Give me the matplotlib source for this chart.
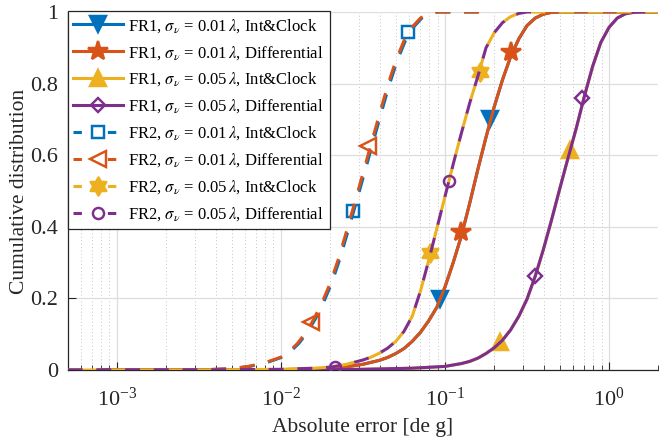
import math
import matplotlib
matplotlib.use("Agg")
import matplotlib.pyplot as plt
from matplotlib.lines import Line2D
from matplotlib.path import Path
from matplotlib.ticker import LogLocator, FixedLocator, FuncFormatter, NullFormatter

plt.rcParams['font.family'] = ['Liberation Serif', 'DejaVu Serif']
plt.rcParams['mathtext.fontset'] = 'stix'

# ---------------- data ----------------
# FR2, sigma = 0.01 lambda, Differential (orange dashed)
fr2_01_diff_x = [0.0005, 0.00316, 0.00501, 0.00631, 0.00794, 0.0100, 0.01122, 0.01259, 0.01413,
                 0.01585, 0.01778, 0.01995, 0.02239, 0.02512, 0.02818, 0.03162, 0.03548, 0.03981,
                 0.04467, 0.05012, 0.05623, 0.0631, 0.07079, 0.07943, 0.08913, 0.17]
fr2_01_diff_y = [0.0, 0.0, 0.004, 0.010, 0.020, 0.036, 0.052, 0.074, 0.104,
                 0.142, 0.188, 0.242, 0.310, 0.388, 0.468, 0.550, 0.632, 0.714,
                 0.794, 0.864, 0.920, 0.958, 0.983, 0.995, 1.0, 1.0]
# FR2, sigma = 0.01 lambda, Int&Clock (blue dashed)
fr2_01_int_x = [0.0005, 0.00322, 0.00511, 0.00644, 0.0081, 0.0102, 0.01144, 0.01284, 0.01441,
                0.01617, 0.01814, 0.02035, 0.02284, 0.02562, 0.02874, 0.03225, 0.03619, 0.04061,
                0.04556, 0.05112, 0.05735, 0.06436, 0.07221, 0.08102, 0.09091, 0.16]
fr2_01_int_y = [0.0, 0.0, 0.004, 0.010, 0.020, 0.036, 0.052, 0.074, 0.104,
                0.142, 0.188, 0.242, 0.310, 0.388, 0.468, 0.550, 0.632, 0.714,
                0.794, 0.864, 0.920, 0.958, 0.983, 0.995, 1.0, 1.0]
# FR2, sigma = 0.05 lambda (yellow dashed Int&Clock, purple dashed Differential)
fr2_05_x = [0.0005, 0.00316, 0.0100, 0.01585, 0.01995, 0.02512, 0.03162, 0.03548, 0.03981,
            0.04467, 0.05012, 0.05623, 0.0631, 0.07079, 0.07943, 0.08913, 0.1, 0.1122, 0.1259,
            0.1413, 0.1585, 0.1778, 0.1995, 0.2239, 0.2512, 0.2818, 0.3162, 0.35]
fr2_05_y = [0.0, 0.0, 0.002, 0.005, 0.008, 0.016, 0.028, 0.036, 0.047,
            0.061, 0.080, 0.108, 0.150, 0.220, 0.305, 0.395, 0.485, 0.575, 0.662,
            0.745, 0.820, 0.900, 0.942, 0.970, 0.987, 0.996, 1.0, 1.0]
fr2_05_int_x = fr2_05_x + [2.0]
fr2_05_int_y = fr2_05_y + [1.0]
fr2_05_diff_x = fr2_05_x
fr2_05_diff_y = fr2_05_y
# FR1, sigma = 0.01 lambda (blue solid Int&Clock, orange solid Differential)
fr1_01_x = [0.0008, 0.00316, 0.0100, 0.01585, 0.01995, 0.02512, 0.03162, 0.03981, 0.04467,
            0.05012, 0.05623, 0.0631, 0.07079, 0.07943, 0.08913, 0.1, 0.1122, 0.1259, 0.1413,
            0.1585, 0.1778, 0.1995, 0.2239, 0.2512, 0.2818, 0.3162, 0.3548, 0.3981, 0.4467,
            0.5012, 2.0]
fr1_01_y = [0.0, 0.0, 0.001, 0.003, 0.005, 0.009, 0.016, 0.027, 0.035,
            0.046, 0.060, 0.080, 0.105, 0.137, 0.175, 0.232, 0.300, 0.375, 0.465,
            0.560, 0.650, 0.735, 0.810, 0.875, 0.925, 0.962, 0.983, 0.994, 0.999,
            1.0, 1.0]
# FR1, sigma = 0.05 lambda (yellow solid Int&Clock, purple solid Differential)
fr1_05_x = [0.0008, 0.0100, 0.03162, 0.0631, 0.1, 0.1259, 0.1413, 0.1585, 0.1778, 0.1995,
            0.2239, 0.2512, 0.2818, 0.3162, 0.3548, 0.3981, 0.4467, 0.5012, 0.5623, 0.631,
            0.7079, 0.7943, 0.8913, 1.0, 1.122, 1.259, 1.413, 1.585, 2.0]
fr1_05_y = [0.0, 0.0, 0.002, 0.005, 0.010, 0.018, 0.024, 0.033, 0.046, 0.062,
            0.083, 0.112, 0.150, 0.198, 0.262, 0.337, 0.420, 0.507, 0.592, 0.675,
            0.765, 0.848, 0.915, 0.957, 0.983, 0.995, 0.999, 1.0, 1.0]

# marker positions
mk_fr1_01_int = ([0.0933, 0.188], [0.198, 0.70])
mk_fr1_01_diff = ([0.126, 0.252], [0.386, 0.889])
mk_fr1_05_int = ([0.216, 0.578], [0.078, 0.615])
mk_fr1_05_diff = ([0.354, 0.685], [0.262, 0.759])
mk_fr2_01_int = ([0.0276, 0.0597], [0.445, 0.945])
mk_fr2_01_diff = ([0.0152, 0.034], [0.135, 0.625])
mk_fr2_05_int = ([0.0815, 0.163], [0.326, 0.833])
mk_fr2_05_diff = ([0.0213, 0.106], [0.009, 0.528])

labels = [
    r"FR1, $\sigma_{\nu}$ = 0.01$\,\lambda$, Int&Clock",
    r"FR1, $\sigma_{\nu}$ = 0.01$\,\lambda$, Differential",
    r"FR1, $\sigma_{\nu}$ = 0.05$\,\lambda$, Int&Clock",
    r"FR1, $\sigma_{\nu}$ = 0.05$\,\lambda$, Differential",
    r"FR2, $\sigma_{\nu}$ = 0.01$\,\lambda$, Int&Clock",
    r"FR2, $\sigma_{\nu}$ = 0.01$\,\lambda$, Differential",
    r"FR2, $\sigma_{\nu}$ = 0.05$\,\lambda$, Int&Clock",
    r"FR2, $\sigma_{\nu}$ = 0.05$\,\lambda$, Differential",
]

# ---------------- styles ----------------
C_BLUE, C_ORANGE, C_YELLOW, C_PURPLE = '#0072BD', '#D95319', '#EDB120', '#7E2F8E'
LW = 2.2
DASH = (0, (4.9, 4.5))
DASH_OFF = (4.7, (4.9, 4.5))

# six-pointed star (hexagram) marker
_verts = []
for k in range(12):
    r = 1.0 if k % 2 == 0 else 0.58
    a = math.pi / 2 + k * math.pi / 6
    _verts.append((r * math.cos(a), r * math.sin(a)))
_verts.append(_verts[0])
HEXAGRAM = Path(_verts, [Path.MOVETO] + [Path.LINETO] * 11 + [Path.CLOSEPOLY])

series = [
    (fr1_01_x, fr1_01_y, mk_fr1_01_int, C_BLUE, '-', 'v', 12, True),
    (fr1_01_x, fr1_01_y, mk_fr1_01_diff, C_ORANGE, '-', '*', 15, True),
    (fr1_05_x, fr1_05_y, mk_fr1_05_int, C_YELLOW, '-', '^', 12, True),
    (fr1_05_x, fr1_05_y, mk_fr1_05_diff, C_PURPLE, '-', 'D', 7.5, False),
    (fr2_01_int_x, fr2_01_int_y, mk_fr2_01_int, C_BLUE, DASH, 's', 8, False),
    (fr2_01_diff_x, fr2_01_diff_y, mk_fr2_01_diff, C_ORANGE, DASH, '<', 11, False),
    (fr2_05_int_x, fr2_05_int_y, mk_fr2_05_int, C_YELLOW, DASH_OFF, HEXAGRAM, 13, True),
    (fr2_05_diff_x, fr2_05_diff_y, mk_fr2_05_diff, C_PURPLE, DASH, 'o', 8, False),
]

fig = plt.figure(figsize=(6.59, 4.4), dpi=100)
ax = fig.add_axes([67.6 / 659, 70 / 440, 590.8 / 659, 358 / 440])

handles = []
for i, (x, y, mk, c, ls, m, ms, filled) in enumerate(series):
    ax.plot(x, y, color=c, lw=LW, ls=ls, solid_capstyle='butt', dash_capstyle='butt',
            solid_joinstyle='round', zorder=3 + i)
    ax.plot(mk[0], mk[1], ls='none', marker=m, ms=ms, mew=LW * 0.8, color=c,
            mfc=c if filled else 'none', mec=c, zorder=3 + i)
    hls = '-' if ls == '-' else (0, (2.75, 8.5))
    handles.append(Line2D([], [], color=c, lw=LW, ls=hls, marker=m, ms=ms, mew=LW * 0.8,
                          mfc=c if filled else 'none', mec=c, dash_capstyle='butt'))

ax.set_xscale('log')
ax.set_xlim(5e-4, 2.0)
ax.set_ylim(0, 1)
ax.set_yticks([0, 0.2, 0.4, 0.6, 0.8, 1.0])
ax.yaxis.set_major_formatter(FuncFormatter(lambda v, p: '%g' % v))
ax.xaxis.set_major_locator(FixedLocator([1e-3, 1e-2, 1e-1, 1e0]))
ax.xaxis.set_minor_locator(LogLocator(base=10, subs=range(2, 10), numticks=20))
ax.xaxis.set_minor_formatter(NullFormatter())

ax.grid(True, which='major', color='#dedede', lw=0.9, ls='-', zorder=0)
ax.grid(True, which='minor', axis='x', color='#c4c4c4', lw=0.7, ls=(0, (1, 2.5)), zorder=0)
ax.set_axisbelow(True)

for s in ['top', 'right']:
    ax.spines[s].set_visible(False)
for s in ['left', 'bottom']:
    ax.spines[s].set_color('#262626')
    ax.spines[s].set_linewidth(0.9)

ax.tick_params(which='both', direction='in', colors='#262626', labelsize=16,
               top=False, right=False)
ax.tick_params(which='major', length=6, width=0.8)
ax.tick_params(which='minor', length=3.5, width=0.6)
ax.tick_params(axis='x', pad=13)
ax.tick_params(axis='y', pad=7)

ax.set_xlabel('Absolute error [de g]', fontsize=15.5, color='#262626', labelpad=5)
ax.set_ylabel('Cumulative distribution', fontsize=15.5, color='#262626', labelpad=1)

leg = ax.legend(handles, labels, loc='upper left', bbox_to_anchor=(0, 1.003), borderaxespad=0,
                fontsize=12, handlelength=3.0, handletextpad=0.3, labelspacing=0.55,
                borderpad=0.35, fancybox=False, framealpha=1, edgecolor='#262626',
                numpoints=1)
leg.get_frame().set_linewidth(0.9)
leg.set_zorder(20)

fig.savefig('out.png', dpi=100)
